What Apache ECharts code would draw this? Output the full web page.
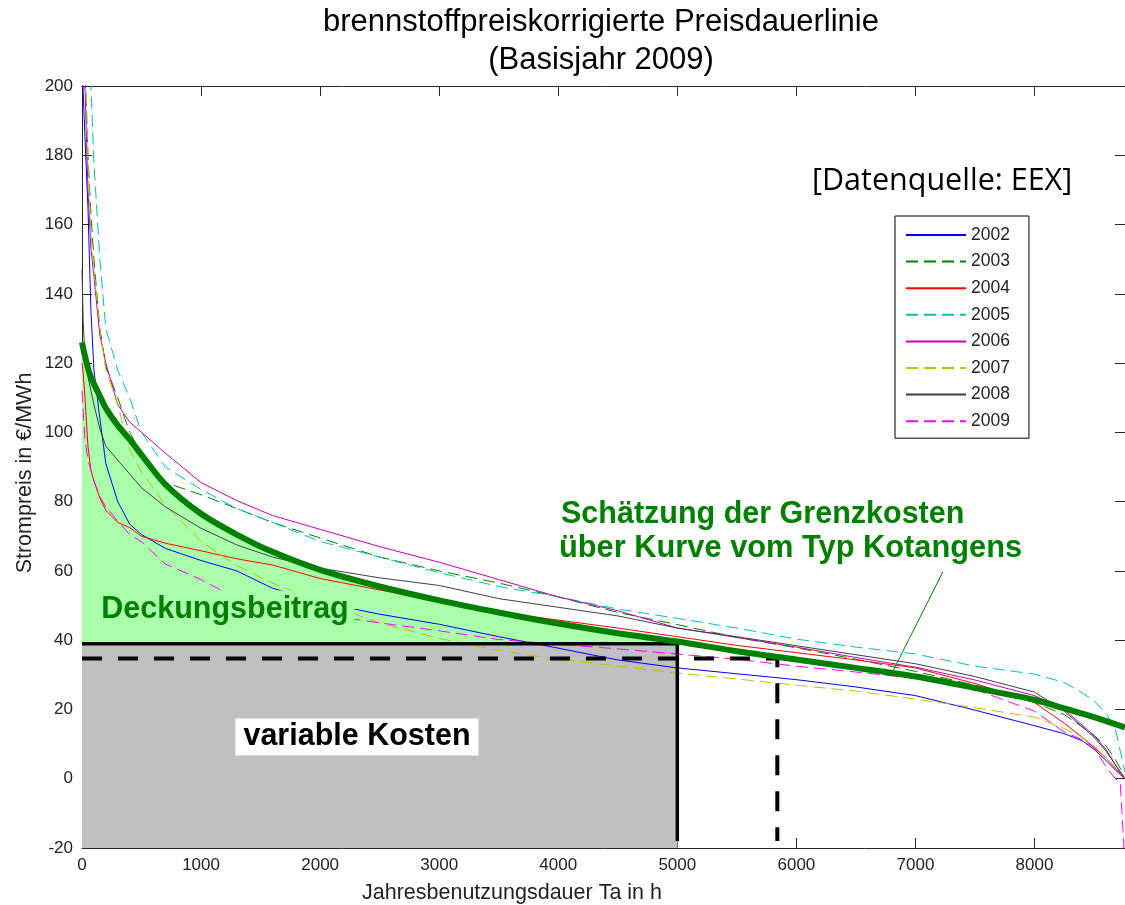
<!DOCTYPE html>
<html>
<head>
<meta charset="utf-8">
<script src="https://cdn.jsdelivr.net/npm/echarts/dist/echarts.min.js"></script>
<style>
  html, body { margin: 0; padding: 0; background: #ffffff; }
  #chart { width: 1125px; height: 905px; }
</style>
</head>
<body>
<div id="chart"></div>
<script>
// Hours of the year at which each sorted price curve is sampled
const hours = [0, 10, 25, 50, 75, 100, 150, 200, 300, 400, 500, 700, 1000, 1300, 1600, 2000, 2500, 3000,
  3500, 4000, 4500, 5000, 5500, 6000, 6500, 7000, 7500, 8000, 8250, 8400, 8500, 8600, 8680, 8720, 8760];

const years = ['2002', '2003', '2004', '2005', '2006', '2007', '2008', '2009'];

// Fuel-price corrected price duration curves (EUR/MWh), one array per year
const price2002 = [230, 198, 185, 165, 135, 118, 104, 91, 80, 73.5, 70.5, 66.5, 63, 60, 55, 51, 47.5, 44.6,
  41, 37.7, 34.3, 32, 30.3, 28.6, 26.5, 24, 19.8, 15.3, 13, 11, 8.5, 5.3, 2.5, 1.2, 0];
const price2003 = [260, 230, 205, 180, 163, 150, 130, 119, 110, 100, 94, 85.5, 82, 78, 74, 69.5, 64, 60,
  56.5, 52.5, 48, 44.5, 40.8, 37.8, 34.5, 31, 27, 22, 18.5, 15, 12.5, 9.5, 5.5, 3, 1];
const price2004 = [120, 117, 110, 96, 89, 86, 81, 77.5, 74, 72.5, 70, 68, 65.8, 63.5, 61.7, 57.8, 54.5, 51.3,
  48, 45.8, 43.5, 41, 38.5, 36.4, 34.3, 32, 27.5, 22, 16, 12, 9, 6, 3, 1.5, 0];
const price2005 = [280, 250, 225, 210, 200, 178, 150, 130, 118, 110, 100, 90, 83.5, 78, 74, 68.5, 64, 59.5,
  55.5, 52.5, 49, 46.3, 43.5, 40.3, 38, 36, 32.5, 30.2, 27.8, 24.8, 22.5, 19, 14.2, 8, 2];
const price2006 = [250, 215, 200, 170, 153, 145, 128, 120, 108, 103, 100, 94, 85.5, 80.3, 76, 72, 67, 62.5,
  57.5, 52.5, 48.5, 43.5, 40.8, 38, 35, 32.2, 28.5, 24, 20, 15.5, 12.5, 8.5, 4, 2, 0];
const price2007 = [240, 225, 210, 180, 157, 147, 130, 118, 108, 95, 88.5, 79, 68.5, 61.5, 56.5, 51, 45, 40.5,
  37, 34.5, 32.5, 30.5, 28.8, 27, 25.3, 23, 20.5, 17.8, 14.5, 12, 9.5, 6, 3.5, 2, 0];
const price2008 = [147, 132, 122, 116, 112, 108, 101, 96, 92, 88, 84, 78.5, 72.3, 67.5, 64, 60.8, 58, 55.8,
  52, 49.5, 47, 43.5, 41, 38.4, 35.8, 33.2, 29.5, 25, 19.5, 15, 12, 8, 4, 2, 0];
const price2009 = [112, 106, 98, 92, 89, 86, 81.5, 78.5, 74.5, 70.5, 68.4, 62, 57.5, 52, 50, 47.5, 45, 42.7,
  40.2, 38.8, 37.5, 36, 34.5, 32.5, 30.8, 29, 25.8, 19.5, 13.5, 11.3, 9, 3.5, 0, -1, -25];

const yearPrices = [price2002, price2003, price2004, price2005, price2006, price2007, price2008, price2009];
const yearColors = ['#0000ff', '#008000', '#ff0000', '#00bfbf', '#bf00bf', '#bfbf00', '#404040', '#ff00ff'];
const yearDashed = [false, true, false, true, false, true, false, true];

// Cotangent-type estimate of the marginal cost curve
const estimateHours = [0, 25, 50, 75, 100, 150, 200, 300, 400, 500, 700, 1000, 1300, 1600, 2000, 2500, 3000,
  3500, 4000, 4500, 5000, 5500, 6000, 6500, 7000, 7500, 8000, 8250, 8500, 8760];
const estimatePrice = [126, 122, 118.5, 116, 114, 110.5, 107, 102, 98, 93.5, 85, 76.5, 70.5, 65.5, 60.3, 55.5,
  51.5, 48, 44.8, 42, 39.6, 36.8, 34.4, 32, 29.5, 26.2, 22.8, 20.3, 17.8, 14.8];

// Operating point: full cost level, variable cost level, running hours
const fullCostLevel = 39;
const fullCostHours = 5000;
const varCostLevel = 34.7;
const varCostHours = 5840;
const lowerEnd = -18;

// Leader line from the estimate caption to the curve
const leaderLine = [[7230, 59.7], [6795, 30]];

const xTicks = [0, 1000, 2000, 3000, 4000, 5000, 6000, 7000, 8000];
const yTicks = [-20, 0, 20, 40, 60, 80, 100, 120, 140, 160, 180, 200];

const FONT = '"Liberation Sans", Arial, sans-serif';
const AX = '#262626';

const pair = (xs, ys) => xs.map((x, i) => [x, ys[i]]);

const yearSeries = years.map((name, i) => ({
  name: name,
  type: 'line',
  data: pair(hours, yearPrices[i]),
  symbol: 'none',
  showSymbol: false,
  clip: true,
  z: 3,
  lineStyle: { color: yearColors[i], width: 1, type: yearDashed[i] ? [12, 6] : 'solid' },
  itemStyle: { color: yearColors[i] }
}));

// margin area up to the operating hours
const fillData = pair(estimateHours, estimatePrice).filter(p => p[0] <= fullCostHours);

const chart = echarts.init(document.getElementById('chart'), null, { renderer: 'canvas' });

const axisCommon = {
  axisLine: { show: true, onZero: false, lineStyle: { color: AX, width: 1 } },
  axisTick: { show: true, inside: true, length: 10, lineStyle: { color: AX, width: 1 } },
  splitLine: { show: false }
};

chart.setOption({
  animation: false,
  backgroundColor: '#ffffff',
  grid: { left: 82, top: 86, width: 1045, height: 762, containLabel: false },
  legend: {
    data: years,
    orient: 'vertical',
    left: 895,
    top: 216,
    itemWidth: 60,
    itemHeight: 14,
    itemGap: 8.6,
    padding: [10, 19, 8, 10],
    borderColor: '#000000',
    borderWidth: 1,
    backgroundColor: '#ffffff',
    itemStyle: { opacity: 0 },
    textStyle: { fontFamily: FONT, fontSize: 17.5, color: '#222222' },
    z: 20
  },
  xAxis: [
    Object.assign({
      type: 'value', min: 0, max: 8760, interval: 1000, position: 'bottom',
      axisLabel: {
        fontFamily: FONT, fontSize: 17, color: '#222222', margin: 9, showMaxLabel: false,
        formatter: v => (xTicks.indexOf(v) >= 0 ? String(v) : '')
      }
    }, axisCommon),
    Object.assign({
      type: 'value', min: 0, max: 8760, interval: 1000, position: 'top',
      axisLabel: { show: false }
    }, axisCommon)
  ],
  yAxis: [
    Object.assign({
      type: 'value', min: -20, max: 200, interval: 20, position: 'left',
      axisLabel: {
        fontFamily: FONT, fontSize: 17, color: '#222222', margin: 9,
        formatter: v => (yTicks.indexOf(v) >= 0 ? String(v) : '')
      }
    }, axisCommon),
    Object.assign({
      type: 'value', min: -20, max: 200, interval: 20, position: 'right',
      axisLabel: { show: false }
    }, axisCommon)
  ],
  series: [
    {
      name: 'Deckungsbeitrag',
      type: 'line',
      data: fillData,
      symbol: 'none',
      smooth: 0.3,
      lineStyle: { width: 0 },
      areaStyle: { color: '#aaffaa', opacity: 1, origin: 'start' },
      z: 1
    },
    {
      name: 'variable Kosten',
      type: 'line',
      data: [[0, fullCostLevel], [fullCostHours, fullCostLevel]],
      symbol: 'none',
      lineStyle: { width: 0 },
      areaStyle: { color: '#c0c0c0', opacity: 1, origin: 'start' },
      z: 2
    },
    ...yearSeries,
    {
      name: 'Vollkosten',
      type: 'line',
      data: [[0, fullCostLevel], [fullCostHours, fullCostLevel], [fullCostHours, lowerEnd]],
      symbol: 'none',
      lineStyle: { color: '#000000', width: 3.5 },
      z: 5
    },
    {
      name: 'Grenzkostenniveau',
      type: 'line',
      data: [[0, varCostLevel], [varCostHours, varCostLevel], [varCostHours, lowerEnd]],
      symbol: 'none',
      lineStyle: { color: '#000000', width: 4, type: [20, 16] },
      z: 5
    },
    {
      name: 'Kotangens',
      type: 'line',
      data: pair(estimateHours, estimatePrice),
      symbol: 'none',
      smooth: 0.3,
      lineStyle: { color: '#008000', width: 6 },
      z: 6
    },
    {
      name: 'Hinweis',
      type: 'line',
      data: leaderLine,
      symbol: 'none',
      lineStyle: { color: '#008000', width: 1 },
      z: 7
    }
  ],
  graphic: [
    { type: 'text', x: 601, y: 22, z: 50,
      style: { text: 'brennstoffpreiskorrigierte Preisdauerlinie', font: '31px ' + FONT, fill: '#000',
        align: 'center', verticalAlign: 'middle' } },
    { type: 'text', x: 601, y: 60, z: 50,
      style: { text: '(Basisjahr 2009)', font: '31px ' + FONT, fill: '#000', align: 'center', verticalAlign: 'middle' } },
    { type: 'text', x: 812, y: 181, z: 50,
      style: { text: '[Datenquelle: EEX]', font: '30.5px "Open Sans", sans-serif', fill: '#000', verticalAlign: 'middle' } },
    { type: 'text', x: 225, y: 610, z: 50,
      style: { text: 'Deckungsbeitrag', font: 'bold 30.5px ' + FONT, fill: '#008000', align: 'center',
        verticalAlign: 'middle', backgroundColor: '#aaffaa', padding: [4, 6, 4, 6] } },
    { type: 'text', x: 357, y: 737, z: 50,
      style: { text: 'variable Kosten', font: 'bold 30.5px ' + FONT, fill: '#000', align: 'center',
        verticalAlign: 'middle', backgroundColor: '#ffffff', padding: [3, 8, 3, 8] } },
    { type: 'text', x: 561, y: 515, z: 50,
      style: { text: 'Schätzung der Grenzkosten', font: 'bold 30.5px ' + FONT, fill: '#008000', verticalAlign: 'middle' } },
    { type: 'text', x: 559, y: 549, z: 50,
      style: { text: 'über Kurve vom Typ Kotangens', font: 'bold 30.8px ' + FONT, fill: '#008000', verticalAlign: 'middle' } },
    { type: 'text', x: 512, y: 893, z: 50,
      style: { text: 'Jahresbenutzungsdauer Ta in h', font: '21.5px ' + FONT, fill: '#222', align: 'center', verticalAlign: 'middle' } },
    { type: 'text', x: 25, y: 473, rotation: Math.PI / 2, z: 50,
      style: { text: 'Strompreis in €/MWh', font: '21.5px ' + FONT, fill: '#222', align: 'center', verticalAlign: 'middle' } }
  ]
});
</script>
</body>
</html>
